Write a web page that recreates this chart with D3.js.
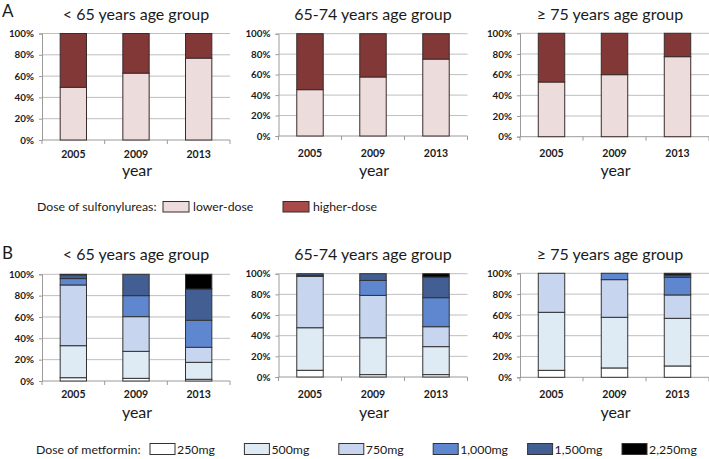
<!DOCTYPE html>
<html><head><meta charset="utf-8">
<script src="https://cdn.jsdelivr.net/npm/d3@7"></script>
<style>
html,body{margin:0;padding:0;background:#fff;}
svg{display:block;font-family:Lato,"Open Sans",sans-serif;}
</style></head><body>
<svg id="c" width="709" height="459"></svg>
<script>
// ---- data ----
const years = ["2005", "2009", "2013"];
const ageGroups = ["< 65 years age group", "65-74 years age group", "\u2265 75 years age group"];
const yTicks = [0, 0.2, 0.4, 0.6, 0.8, 1.0];

// Panel A: sulfonylureas (share lower-dose, higher-dose), per age group per year
const suDoses = ["lower-dose", "higher-dose"];
const suColors = ["#ECDCDC", "#833838"];
const suLegendColors = ["#ECDCDC", "#A84A4A"];
const suLower_u65   = [0.495, 0.628, 0.769];
const suLower_65_74 = [0.453, 0.577, 0.752];
const suLower_o75   = [0.529, 0.600, 0.774];

// Panel B: metformin dose shares (%), per age group, rows = years, columns = doses
const mfDoses = ["250mg", "500mg", "750mg", "1,000mg", "1,500mg", "2,250mg"];
const mfColors = ["#FFFFFF", "#DEEBF4", "#C7D5EE", "#5F87CF", "#425E92", "#000000"];
const mf_u65 = [
  [3.1, 30.0, 56.9, 6.0, 3.5, 0.5],
  [2.5, 25.3, 32.5, 19.7, 20.0, 0.0],
  [1.6, 15.9, 14.1, 25.3, 29.3, 13.8]
];
const mf_65_74 = [
  [6.5, 41.2, 49.7, 1.0, 1.6, 0.0],
  [2.3, 35.7, 41.0, 14.5, 6.5, 0.0],
  [2.3, 27.1, 19.3, 28.1, 20.0, 3.2]
];
const mf_o75 = [
  [6.7, 55.8, 37.5, 0.0, 0.0, 0.0],
  [9.0, 48.7, 36.2, 6.1, 0.0, 0.0],
  [10.9, 45.8, 22.5, 17.0, 2.2, 1.6]
];

// ---- layout ----
const svg = d3.select("#c");
const panelX = [[42, 230], [278.5, 467.5], [520, 709]];
const panelYA = [[33.5, 140], [33.7, 136], [33.3, 136.7]];
const panelYB = [[274.3, 381], [273.7, 377], [273.3, 377.3]];
const titleX = [136, 373, 610];

function drawPanel(px, py, title, titleY, stacks, colors, strokeCol, catY, yearY, ti) {
  const x = d3.scaleBand().domain(years).range(px).paddingInner(0.58).paddingOuter(0.29);
  const y = d3.scaleLinear().domain([0, 1]).range([py[1], py[0]]);
  const g = svg.append("g");
  // gridlines
  g.selectAll("line.grid").data(yTicks.slice(1)).join("line")
    .attr("x1", px[0]).attr("x2", px[1]).attr("y1", d => y(d)).attr("y2", d => y(d))
    .attr("stroke", "#BEBEBE").attr("stroke-width", 1);
  // y axis
  const ya = d3.axisLeft(y).tickValues(yTicks).tickFormat(d3.format(".0%")).tickSize(3).tickPadding(5);
  const yg = g.append("g").attr("transform", `translate(${px[0]},0)`).call(ya);
  yg.select(".domain").attr("stroke", "#9A9A9A");
  yg.selectAll(".tick line").attr("stroke", "#9A9A9A");
  yg.selectAll("text").attr("font-size", 9.8).attr("font-weight", "bold").attr("fill", "#1a1a1a")
    .attr("font-family", "Lato, sans-serif");
  // x axis baseline with boundary ticks
  const bw = (px[1] - px[0]) / years.length;
  g.append("line").attr("x1", px[0]).attr("x2", px[1]).attr("y1", py[1]).attr("y2", py[1]).attr("stroke", "#9A9A9A");
  g.selectAll("line.xt").data(d3.range(years.length + 1)).join("line")
    .attr("x1", i => px[0] + i * bw).attr("x2", i => px[0] + i * bw)
    .attr("y1", py[1]).attr("y2", py[1] + 4).attr("stroke", "#9A9A9A");
  // stacks
  stacks.forEach((segs, yi) => {
    let acc = 0;
    segs.forEach((v, si) => {
      if (v <= 0) return;
      g.append("rect").attr("x", x(years[yi])).attr("width", x.bandwidth())
        .attr("y", y(acc + v)).attr("height", y(acc) - y(acc + v))
        .attr("fill", colors[si]).attr("stroke", strokeCol).attr("stroke-width", 1);
      acc += v;
    });
  });
  // category labels
  g.selectAll("text.cat").data(years).join("text")
    .attr("x", d => x(d) + x.bandwidth() / 2).attr("y", catY).attr("text-anchor", "middle")
    .attr("font-size", 10.5).attr("font-weight", "bold").attr("fill", "#1a1a1a").text(d => d);
  // axis title
  g.append("text").attr("x", (px[0] + px[1]) / 2 + 1).attr("y", yearY).attr("text-anchor", "middle")
    .attr("font-size", 16).attr("fill", "#1a1a1a").text("year");
  // panel title
  g.append("text").attr("x", titleX[ti]).attr("y", titleY).attr("text-anchor", "middle")
    .attr("font-size", 16).attr("fill", "#1a1a1a").text(title);
}

const suStacks = [suLower_u65, suLower_65_74, suLower_o75].map(arr => arr.map(v => [v, 1 - v]));
const catYA = [158, 157, 157];
const yearYA = [175.5, 175.5, 175.5];
suStacks.forEach((st, i) => drawPanel(panelX[i], panelYA[i], ageGroups[i], 19.5, st, suColors, "#3a2b2b", catYA[i], yearYA[i], i));

const mfStacks = [mf_u65, mf_65_74, mf_o75].map(m => m.map(r => {
  const s = d3.sum(r); return r.map(v => v / s);
}));
mfStacks.forEach((st, i) => drawPanel(panelX[i], panelYB[i], ageGroups[i], 260, st, mfColors, "#333333", 398, 417.5, i));

// panel letters
svg.append("text").attr("x", 2).attr("y", 17).attr("font-size", 17).attr("fill", "#1a1a1a").text("A");
svg.append("text").attr("x", 2).attr("y", 259).attr("font-size", 17).attr("fill", "#1a1a1a").text("B");

// legend A
const lgA = svg.append("g");
lgA.append("text").attr("x", 37).attr("y", 210.5).attr("font-size", 12.3).attr("fill", "#1a1a1a").text("Dose of sulfonylureas:");
const suLegX = [163, 283];
suDoses.forEach((d, i) => {
  lgA.append("rect").attr("x", suLegX[i]).attr("y", 201.5).attr("width", 26).attr("height", 10.5)
    .attr("fill", suLegendColors[i]).attr("stroke", "#3a2b2b");
  lgA.append("text").attr("x", suLegX[i] + 30).attr("y", 210.5).attr("font-size", 12.3).attr("fill", "#1a1a1a").text(d);
});

// legend B
const lgB = svg.append("g");
lgB.append("text").attr("x", 36).attr("y", 453.5).attr("font-size", 12.3).attr("fill", "#1a1a1a").text("Dose of metformin:");
mfDoses.forEach((d, i) => {
  const bx = 150 + i * 94.4;
  lgB.append("rect").attr("x", bx).attr("y", 443.5).attr("width", 25).attr("height", 11)
    .attr("fill", mfColors[i]).attr("stroke", "#333");
  lgB.append("text").attr("x", bx + 27).attr("y", 453.5).attr("font-size", 12.3).attr("fill", "#1a1a1a").text(d);
});
</script>
</body></html>
